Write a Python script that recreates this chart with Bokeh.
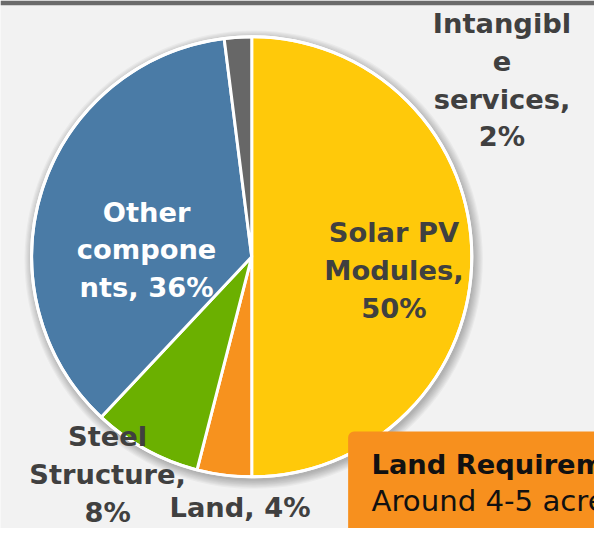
import numpy as np
from bokeh.plotting import figure
from bokeh.models import Range1d, ColumnDataSource
from bokeh.core.properties import value
from bokeh.embed import file_html
from bokeh.resources import INLINE

# ---- data ----
categories = ["Solar PV Modules", "Land", "Steel Structure", "Other components", "Intangible services"]
shares = [50, 4, 8, 36, 2]
colors = ["#FFC90A", "#F7921E", "#6BB000", "#4A7BA6", "#676767"]
label_lines = [
    ["Solar PV", "Modules,", "50%"],
    ["Land, 4%"],
    ["Steel", "Structure,", "8%"],
    ["Other", "compone", "nts, 36%"],
    ["Intangibl", "e", "services,", "2%"],
]
label_colors = ["#404040", "#404040", "#404040", "#FFFFFF", "#404040"]
# label block centres (pixels of the 610x544 reference)
label_pos = [(404, 278), (246, 522), (110, 488), (150, 257), (515, 82)]

box_title = "Land Requirement"
box_text = "Around 4-5 acres per MW"

W, H = 610, 544
def Y(py):
    return H - py

PW, PH = 594, 528
s = PW / W  # screen px per reference px

p = figure(width=PW, height=PH, output_backend="svg", toolbar_location=None,
           x_range=Range1d(0, W), y_range=Range1d(0, H), min_border=0)
p.axis.visible = False
p.grid.visible = False
p.outline_line_color = None
p.background_fill_color = "#F2F2F2"
p.border_fill_color = "#F2F2F2"

# top dark band
p.quad(left=0, right=W, top=Y(0), bottom=Y(5), fill_color="#6B6B6B", line_color=None)

cx, cy, R = 258, Y(264), 226

# soft shadow
for k in range(8):
    p.circle(x=cx + 2, y=cy - 3, radius=R + 1 + k * 1.2, fill_color="black",
             fill_alpha=0.035, line_color=None)

# wedges, clockwise from 12 o'clock
fr = np.array(shares, dtype=float) / sum(shares)
cum = np.concatenate([[0], np.cumsum(fr)])
start = np.pi / 2 - 2 * np.pi * cum[1:]
end = np.pi / 2 - 2 * np.pi * cum[:-1]
src = ColumnDataSource(dict(start=start, end=end, color=colors, cat=categories))
p.wedge(x=cx, y=cy, radius=R, start_angle="start", end_angle="end",
        fill_color="color", line_color="white", line_width=3, source=src)
p.circle(x=cx, y=cy, radius=R, fill_color=None, line_color="white", line_width=3)

# labels
LS = 39
fs = f"{28 * s:.1f}px"
for lines, (lx, ly), col in zip(label_lines, label_pos, label_colors):
    n = len(lines)
    ys = [Y(ly + (i - (n - 1) / 2) * LS) for i in range(n)]
    p.text(x=[lx] * n, y=ys, text=lines, text_align="center", text_baseline="middle",
           text_font=value("DejaVu Sans"), text_font_style="bold",
           text_font_size=fs, text_color=col)

# orange info box (bottom right)
p.quad(left=357, right=W + 20, top=Y(444), bottom=Y(H + 20), fill_color="#F7901E",
       line_color=None, border_radius=6)
p.text(x=[381], y=[Y(478)], text=[box_title], text_baseline="middle",
       text_font=value("DejaVu Sans"), text_font_style="bold",
       text_font_size=f"{28 * s:.1f}px", text_color="#111111")
p.text(x=[381], y=[Y(516)], text=[box_text], text_baseline="middle",
       text_font=value("DejaVu Sans"), text_font_size=f"{30 * s:.1f}px",
       text_color="#111111")

open("out.html", "w").write(file_html(p, INLINE))
